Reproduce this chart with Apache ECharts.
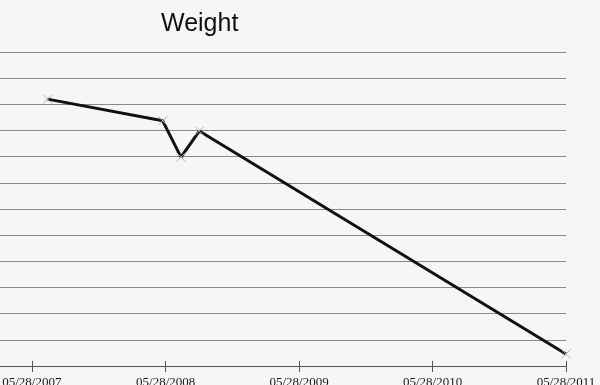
<!DOCTYPE html>
<html>
<head>
<meta charset="utf-8">
<script src="https://cdn.jsdelivr.net/npm/echarts@6/dist/echarts.min.js"></script>
<style>
html,body{margin:0;padding:0;background:#f6f6f4;}
#c{width:600px;height:385px;}
</style>
</head>
<body>
<div id="c"></div>
<script>
var dates = ['2007-07-10', '2008-05-20', '2008-07-09', '2008-08-28', '2011-05-28'];
var weights = [252.0, 243.7, 229.8, 239.8, 154.6];
var tickDates = ['2007-05-28', '2008-05-28', '2009-05-28', '2010-05-28', '2011-05-28'];
var xMinDate = '2007-03-02';
var xMaxDate = '2011-05-28';
var yMin = 150, yMax = 270, yStep = 10;

function ts(s){ return new Date(s + 'T00:00:00Z').getTime(); }
function pad(n){ return (n < 10 ? '0' : '') + n; }
function fmt(v){
  var d = new Date(v);
  return pad(d.getUTCMonth() + 1) + '/' + pad(d.getUTCDate()) + '/' + d.getUTCFullYear();
}
var tickVals = tickDates.map(ts);
var seriesData = dates.map(function(d, i){ return [ts(d), weights[i]]; });

var chart = echarts.init(document.getElementById('c'), null, {renderer: 'canvas'});
var baseX = {
  type: 'value',
  min: ts(xMinDate),
  max: ts(xMaxDate),
  splitLine: {show: false}
};
chart.setOption({
  backgroundColor: '#f6f6f4',
  animation: false,
  title: {
    text: 'Weight',
    left: 156,
    top: 7,
    textStyle: {fontFamily: 'Liberation Sans, Arial, sans-serif', fontSize: 25, fontWeight: 'normal', color: '#111'}
  },
  grid: {left: 0, right: 34, top: 52, bottom: 19, containLabel: false, outerBoundsMode: 'none'},
  xAxis: [
    Object.assign({}, baseX, {
      axisLine: {show: true, lineStyle: {color: '#555', width: 1}},
      axisTick: {show: true, length: 6, customValues: tickVals, lineStyle: {color: '#555'}},
      axisLabel: {
        show: true, customValues: tickVals, formatter: fmt, margin: 10,
        fontFamily: 'Liberation Serif, Times New Roman, serif', fontSize: 13, color: '#1a1a1a'
      }
    }),
    Object.assign({}, baseX, {
      position: 'bottom',
      axisLine: {show: false},
      axisTick: {show: true, inside: true, length: 5, customValues: tickVals, lineStyle: {color: '#555'}},
      axisLabel: {show: false}
    })
  ],
  yAxis: {
    type: 'value',
    min: yMin, max: yMax, interval: yStep,
    axisLine: {show: false},
    axisTick: {show: false},
    axisLabel: {show: false},
    splitLine: {show: true, lineStyle: {color: '#8a8a8a', width: 1}}
  },
  series: [{
    type: 'line',
    data: seriesData,
    symbol: 'path://M0,0L10,10M10,0L0,10',
    symbolSize: 9,
    showSymbol: true,
    itemStyle: {color: 'none', borderColor: '#b0b0b0', borderWidth: 1},
    lineStyle: {color: '#111', width: 3},
    z: 3
  }]
});
</script>
</body>
</html>
